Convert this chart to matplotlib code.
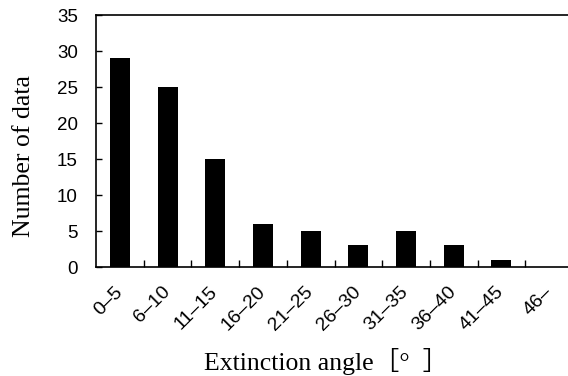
import matplotlib
matplotlib.use("Agg")
import matplotlib.pyplot as plt
import matplotlib.transforms as mtransforms
import numpy as np

categories = ["0–5", "6–10", "11–15", "16–20", "21–25", "26–30", "31–35", "36–40", "41–45", "46–"]
counts = [29, 25, 15, 6, 5, 3, 5, 3, 1, 0]
yticks = [0, 5, 10, 15, 20, 25, 30, 35]

fig = plt.figure(figsize=(5.68, 3.76), dpi=100)
ax = fig.add_axes([96/568, (376-267)/376, 477/568, 252/376])

x = np.arange(len(categories))
ax.bar(x, counts, width=0.42, color="black")
ax.set_xlim(-0.5, len(categories) - 0.5)
ax.set_ylim(0, 35)
ax.set_yticks(yticks)
ax.set_yticklabels([str(v) for v in yticks], family="Liberation Sans", fontsize=13.5)
ax.tick_params(axis="y", direction="in", length=4, width=1, pad=13)

ax.set_xticks(x)
ax.set_xticklabels(categories, rotation=45, ha="right", va="center", rotation_mode="anchor",
                   family="Liberation Sans", fontsize=14)
offset = mtransforms.ScaledTranslation(-4/100, 0, fig.dpi_scale_trans)
for lab in ax.get_xticklabels():
    lab.set_transform(lab.get_transform() + offset)
ax.set_xticks(np.arange(0.5, len(categories) - 0.5, 1), minor=True)
ax.tick_params(axis="x", which="major", length=0, pad=16)
ax.tick_params(axis="x", which="minor", direction="in", length=5, width=1)

for s in ["left", "bottom", "top"]:
    ax.spines[s].set_linewidth(1.2)
ax.spines["right"].set_visible(False)

ax.set_ylabel("Number of data", family="Liberation Serif", fontsize=18.5)
ax.yaxis.set_label_coords(-0.128, 0.44)
ax.set_xlabel("Extinction angle［°  ］", family=["Liberation Serif", "Noto Sans CJK JP"],
              fontsize=18.5)
ax.xaxis.set_label_coords(0.483, -0.375)
ax.xaxis.label.set_va("center")

fig.savefig("out.png", dpi=100)
